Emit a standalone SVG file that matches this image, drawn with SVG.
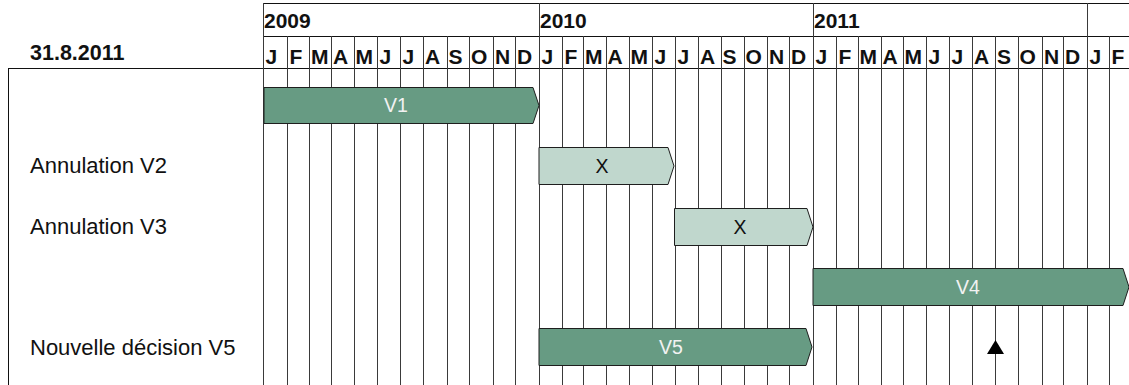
<svg xmlns="http://www.w3.org/2000/svg" width="1129" height="385" viewBox="0 0 1129 385">
<defs>
<style>
.hdr{font-family:"Liberation Sans",Arial,sans-serif;font-weight:bold;font-size:21px;fill:#111}
.lbl{font-family:"Liberation Sans",Arial,sans-serif;font-size:22px;fill:#111}
.bt{font-family:"Liberation Sans",Arial,sans-serif;font-size:19.5px;text-anchor:middle}
.dark{fill:#679b83;stroke:#1e1e1e;stroke-width:1}
.light{fill:#c0d7cd;stroke:#1e1e1e;stroke-width:1}
.grid{stroke:#3a3a3a;stroke-width:1;fill:none}
.frame{stroke:#111;stroke-width:1;fill:none}
</style>
</defs>
<rect width="1129" height="385" fill="#fff"/>
<g id="header">
<path class="frame" d="M263 3.5H1129M263 36.5H1129M8 68.5H1129M8.5 68V385"/>
<g class="grid">
<path d="M263.5 3V385M539.5 3V385M813.5 3V385M1087.5 3V385"/>
<path d="M287.5 36V385M309.5 36V385M331.5 36V385M354.5 36V385M377.5 36V385M400.5 36V385M423.5 36V385M447.5 36V385M469.5 36V385M493.5 36V385M515.5 36V385M562.5 36V385M583.5 36V385M606.5 36V385M629.5 36V385M652.5 36V385M675.5 36V385M698.5 36V385M721.5 36V385M744.5 36V385M767.5 36V385M789.5 36V385M836.5 36V385M858.5 36V385M881.5 36V385M903.5 36V385M926.5 36V385M949.5 36V385M972.5 36V385M995.5 36V385M1018.5 36V385M1042.5 36V385M1063.5 36V385M1109.5 36V385"/>
</g>
<text class="hdr" x="30" y="60" style="font-size:21.5px">31.8.2011</text>
<text class="hdr" x="264" y="28">2009</text>
<text class="hdr" x="540" y="28">2010</text>
<text class="hdr" x="814" y="28">2011</text>
<g class="hdr">
<text x="265.5" y="64">J</text><text x="289.5" y="64">F</text><text x="311" y="64">M</text><text x="333" y="64">A</text><text x="355.5" y="64">M</text><text x="379.5" y="64">J</text><text x="402.5" y="64">J</text><text x="425" y="64">A</text><text x="448.5" y="64">S</text><text x="471" y="64">O</text><text x="495" y="64">N</text><text x="517" y="64">D</text>
<text x="541.5" y="64">J</text><text x="564.5" y="64">F</text><text x="585" y="64">M</text><text x="607.5" y="64">A</text><text x="630.5" y="64">M</text><text x="654.5" y="64">J</text><text x="677.5" y="64">J</text><text x="700" y="64">A</text><text x="722.5" y="64">S</text><text x="745.5" y="64">O</text><text x="769" y="64">N</text><text x="791" y="64">D</text>
<text x="815.5" y="64">J</text><text x="838.5" y="64">F</text><text x="859.5" y="64">M</text><text x="882.5" y="64">A</text><text x="904.5" y="64">M</text><text x="928.5" y="64">J</text><text x="951.5" y="64">J</text><text x="974" y="64">A</text><text x="997" y="64">S</text><text x="1019.5" y="64">O</text><text x="1044" y="64">N</text><text x="1065" y="64">D</text>
<text x="1089.5" y="64">J</text><text x="1111.5" y="64">F</text>
</g>
</g>
<g id="labels">
<text class="lbl" x="30" y="173">Annulation V2</text>
<text class="lbl" x="30" y="234">Annulation V3</text>
<text class="lbl" x="30" y="355">Nouvelle décision V5</text>
</g>
<g id="v1">
<path class="dark" d="M264 87.5H533L539 105.5L533 123.5H264Z"/>
<text class="bt" x="396" y="112" fill="#f2f2f2">V1</text>
</g>
<g id="x-v2">
<path class="light" d="M539 147.5H668L674 166L668 184.5H539Z"/>
<text class="bt" x="602" y="173" fill="#111">X</text>
</g>
<g id="x-v3">
<path class="light" d="M674.5 208.5H807L813 227L807 245.5H674.5Z"/>
<text class="bt" x="740" y="234" fill="#111">X</text>
</g>
<g id="v4">
<path class="dark" d="M813 268.5H1123L1129 287L1123 305.5H813Z"/>
<text class="bt" x="968" y="294" fill="#f2f2f2">V4</text>
</g>
<g id="v5">
<path class="dark" d="M539 328.5H806L812 347L806 365.5H539Z"/>
<text class="bt" x="671" y="354" fill="#f2f2f2">V5</text>
</g>
<g id="milestone">
<path d="M995.5 340L1004 354H987Z" fill="#000"/>
</g>
</svg>
